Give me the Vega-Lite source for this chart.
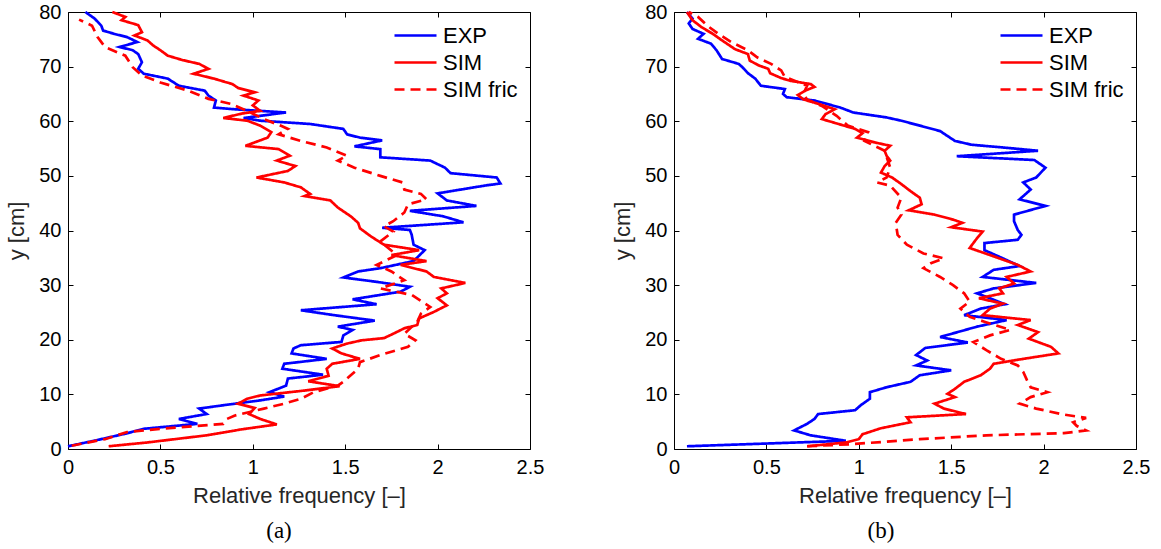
{
"$schema":"https://vega.github.io/schema/vega-lite/v6.json",
"background":"white",
"padding":{"left":5,"top":1,"right":5,"bottom":5},
"bounds":"flush",
"spacing":144,
"config":{
 "view":{"stroke":"black","strokeWidth":1},
 "font":"Liberation Sans",
 "axis":{"grid":false,"domain":false,"labelFont":"Liberation Sans","labelFontSize":20,"labelColor":"black","titleFont":"Liberation Sans","titleFontSize":22,"titleFontWeight":"normal","titleColor":"#262626","tickColor":"black","tickSize":-5,"tickWidth":1},
 "legend":{"labelFont":"Liberation Sans","labelFontSize":22,"labelColor":"black"},
 "title":{"font":"Liberation Serif","fontSize":23,"fontWeight":"normal","color":"black"}
},
"resolve":{"scale":{"color":"independent","strokeDash":"independent"},"legend":{"color":"independent","strokeDash":"independent"}},
"datasets":{
"a":[
{"s":"EXP","y":80,"x":0.094},{"s":"EXP","y":78.8,"x":0.144},{"s":"EXP","y":77.5,"x":0.18},{"s":"EXP","y":76.6,"x":0.19},{"s":"EXP","y":76,"x":0.25},{"s":"EXP","y":75.4,"x":0.32},{"s":"EXP","y":74.5,"x":0.375},{"s":"EXP","y":73.6,"x":0.28},{"s":"EXP","y":73,"x":0.35},{"s":"EXP","y":72.3,"x":0.38},{"s":"EXP","y":70.8,"x":0.40},{"s":"EXP","y":69.6,"x":0.38},{"s":"EXP","y":68.7,"x":0.41},{"s":"EXP","y":67.8,"x":0.54},{"s":"EXP","y":66.5,"x":0.60},{"s":"EXP","y":65.6,"x":0.74},{"s":"EXP","y":64.7,"x":0.76},{"s":"EXP","y":63.8,"x":0.80},{"s":"EXP","y":62.5,"x":0.79},{"s":"EXP","y":62.2,"x":0.90},{"s":"EXP","y":61.6,"x":1.18},{"s":"EXP","y":60.6,"x":0.95},{"s":"EXP","y":60.1,"x":1.04},{"s":"EXP","y":59.5,"x":1.31},{"s":"EXP","y":58.6,"x":1.49},{"s":"EXP","y":57.6,"x":1.51},{"s":"EXP","y":57,"x":1.58},{"s":"EXP","y":56.5,"x":1.70},{"s":"EXP","y":55.4,"x":1.55},{"s":"EXP","y":54.9,"x":1.69},{"s":"EXP","y":53.4,"x":1.69},{"s":"EXP","y":52.8,"x":1.96},{"s":"EXP","y":51.5,"x":2.04},{"s":"EXP","y":50.5,"x":2.07},{"s":"EXP","y":49.7,"x":2.32},{"s":"EXP","y":48.6,"x":2.34},{"s":"EXP","y":48.3,"x":2.27},{"s":"EXP","y":46.8,"x":2.0},{"s":"EXP","y":45.5,"x":2.05},{"s":"EXP","y":44.5,"x":2.21},{"s":"EXP","y":43.6,"x":1.85},{"s":"EXP","y":42.6,"x":2.03},{"s":"EXP","y":41.5,"x":2.14},{"s":"EXP","y":40.5,"x":1.70},{"s":"EXP","y":40.1,"x":1.85},{"s":"EXP","y":39.2,"x":1.86},{"s":"EXP","y":37.4,"x":1.87},{"s":"EXP","y":36.4,"x":1.93},{"s":"EXP","y":34.4,"x":1.87},{"s":"EXP","y":33.1,"x":1.69},{"s":"EXP","y":32.5,"x":1.57},{"s":"EXP","y":31.4,"x":1.49},{"s":"EXP","y":30.6,"x":1.67},{"s":"EXP","y":29.7,"x":1.85},{"s":"EXP","y":28.8,"x":1.80},{"s":"EXP","y":27.4,"x":1.54},{"s":"EXP","y":26.5,"x":1.67},{"s":"EXP","y":25.4,"x":1.26},{"s":"EXP","y":24.5,"x":1.44},{"s":"EXP","y":23.5,"x":1.66},{"s":"EXP","y":22.4,"x":1.46},{"s":"EXP","y":21.8,"x":1.54},{"s":"EXP","y":20.8,"x":1.49},{"s":"EXP","y":19.6,"x":1.48},{"s":"EXP","y":19.0,"x":1.26},{"s":"EXP","y":18.4,"x":1.22},{"s":"EXP","y":17.5,"x":1.21},{"s":"EXP","y":16.5,"x":1.40},{"s":"EXP","y":15.6,"x":1.17},{"s":"EXP","y":14.7,"x":1.16},{"s":"EXP","y":13.6,"x":1.38},{"s":"EXP","y":12.9,"x":1.19},{"s":"EXP","y":11.6,"x":1.18},{"s":"EXP","y":10.4,"x":1.09},{"s":"EXP","y":9.6,"x":1.17},{"s":"EXP","y":8.9,"x":1.04},{"s":"EXP","y":8.1,"x":0.86},{"s":"EXP","y":7.4,"x":0.71},{"s":"EXP","y":6.4,"x":0.75},{"s":"EXP","y":5.5,"x":0.60},{"s":"EXP","y":4.6,"x":0.70},{"s":"EXP","y":3.7,"x":0.41},{"s":"EXP","y":2.8,"x":0.31},{"s":"EXP","y":1.5,"x":0.14},{"s":"EXP","y":0.5,"x":0.0},
{"s":"SIM","y":80,"x":0.24},{"s":"SIM","y":79.1,"x":0.31},{"s":"SIM","y":78.5,"x":0.29},{"s":"SIM","y":77.6,"x":0.38},{"s":"SIM","y":76.3,"x":0.40},{"s":"SIM","y":75.7,"x":0.36},{"s":"SIM","y":74.8,"x":0.43},{"s":"SIM","y":73.9,"x":0.46},{"s":"SIM","y":73,"x":0.50},{"s":"SIM","y":72,"x":0.54},{"s":"SIM","y":71.2,"x":0.62},{"s":"SIM","y":70.5,"x":0.71},{"s":"SIM","y":69.6,"x":0.76},{"s":"SIM","y":68.7,"x":0.68},{"s":"SIM","y":67.8,"x":0.79},{"s":"SIM","y":66.8,"x":0.89},{"s":"SIM","y":66.1,"x":0.92},{"s":"SIM","y":65.3,"x":1.01},{"s":"SIM","y":64.7,"x":0.95},{"s":"SIM","y":63.8,"x":1.03},{"s":"SIM","y":62.9,"x":1.0},{"s":"SIM","y":61.9,"x":1.04},{"s":"SIM","y":61.4,"x":0.94},{"s":"SIM","y":60.6,"x":0.84},{"s":"SIM","y":60.1,"x":0.97},{"s":"SIM","y":59.2,"x":1.04},{"s":"SIM","y":58,"x":1.10},{"s":"SIM","y":57,"x":1.08},{"s":"SIM","y":55.5,"x":0.96},{"s":"SIM","y":54.9,"x":1.14},{"s":"SIM","y":53.7,"x":1.20},{"s":"SIM","y":52.8,"x":1.13},{"s":"SIM","y":51.8,"x":1.23},{"s":"SIM","y":50.9,"x":1.19},{"s":"SIM","y":49.7,"x":1.02},{"s":"SIM","y":48.8,"x":1.17},{"s":"SIM","y":47.9,"x":1.26},{"s":"SIM","y":46.7,"x":1.31},{"s":"SIM","y":46.3,"x":1.28},{"s":"SIM","y":45.5,"x":1.42},{"s":"SIM","y":44.2,"x":1.46},{"s":"SIM","y":42.6,"x":1.53},{"s":"SIM","y":41.4,"x":1.57},{"s":"SIM","y":40.4,"x":1.58},{"s":"SIM","y":38.9,"x":1.64},{"s":"SIM","y":37.4,"x":1.71},{"s":"SIM","y":36.4,"x":1.90},{"s":"SIM","y":35.5,"x":1.75},{"s":"SIM","y":34.4,"x":1.94},{"s":"SIM","y":33.7,"x":1.80},{"s":"SIM","y":32.5,"x":1.94},{"s":"SIM","y":31.5,"x":1.98},{"s":"SIM","y":30.4,"x":2.15},{"s":"SIM","y":29.4,"x":2.02},{"s":"SIM","y":28.5,"x":2.05},{"s":"SIM","y":27.6,"x":2.0},{"s":"SIM","y":26.3,"x":2.05},{"s":"SIM","y":25.1,"x":1.98},{"s":"SIM","y":23.9,"x":1.90},{"s":"SIM","y":22.7,"x":1.89},{"s":"SIM","y":22.1,"x":1.82},{"s":"SIM","y":21.1,"x":1.76},{"s":"SIM","y":20.3,"x":1.71},{"s":"SIM","y":19.9,"x":1.59},{"s":"SIM","y":19.3,"x":1.51},{"s":"SIM","y":18.4,"x":1.43},{"s":"SIM","y":17.5,"x":1.48},{"s":"SIM","y":16.5,"x":1.58},{"s":"SIM","y":15.6,"x":1.43},{"s":"SIM","y":14.7,"x":1.40},{"s":"SIM","y":13.4,"x":1.41},{"s":"SIM","y":12.4,"x":1.30},{"s":"SIM","y":11.5,"x":1.47},{"s":"SIM","y":10.7,"x":1.28},{"s":"SIM","y":9.8,"x":1.04},{"s":"SIM","y":9.2,"x":0.97},{"s":"SIM","y":8.3,"x":0.92},{"s":"SIM","y":7.5,"x":1.01},{"s":"SIM","y":6.4,"x":0.98},{"s":"SIM","y":5.5,"x":1.04},{"s":"SIM","y":4.5,"x":1.13},{"s":"SIM","y":3.6,"x":0.94},{"s":"SIM","y":2.5,"x":0.75},{"s":"SIM","y":1.2,"x":0.43},{"s":"SIM","y":0.5,"x":0.22},
{"s":"SIM fric","y":78.6,"x":0.06},{"s":"SIM fric","y":77.5,"x":0.13},{"s":"SIM fric","y":75.4,"x":0.16},{"s":"SIM fric","y":73.6,"x":0.20},{"s":"SIM fric","y":72,"x":0.31},{"s":"SIM fric","y":69.9,"x":0.35},{"s":"SIM fric","y":68.4,"x":0.40},{"s":"SIM fric","y":67.1,"x":0.50},{"s":"SIM fric","y":65.6,"x":0.65},{"s":"SIM fric","y":64.1,"x":0.76},{"s":"SIM fric","y":63.2,"x":0.88},{"s":"SIM fric","y":61.9,"x":0.97},{"s":"SIM fric","y":60.4,"x":1.06},{"s":"SIM fric","y":59.2,"x":1.15},{"s":"SIM fric","y":58.6,"x":1.19},{"s":"SIM fric","y":57.6,"x":1.14},{"s":"SIM fric","y":56.4,"x":1.26},{"s":"SIM fric","y":55.2,"x":1.40},{"s":"SIM fric","y":53.7,"x":1.51},{"s":"SIM fric","y":52.8,"x":1.46},{"s":"SIM fric","y":51.5,"x":1.55},{"s":"SIM fric","y":50,"x":1.69},{"s":"SIM fric","y":48.8,"x":1.81},{"s":"SIM fric","y":47.5,"x":1.82},{"s":"SIM fric","y":46.7,"x":1.91},{"s":"SIM fric","y":45.7,"x":1.94},{"s":"SIM fric","y":44.8,"x":1.84},{"s":"SIM fric","y":43.3,"x":1.82},{"s":"SIM fric","y":41.7,"x":1.76},{"s":"SIM fric","y":40.8,"x":1.71},{"s":"SIM fric","y":39.8,"x":1.76},{"s":"SIM fric","y":38,"x":1.69},{"s":"SIM fric","y":35.5,"x":1.78},{"s":"SIM fric","y":33.7,"x":1.67},{"s":"SIM fric","y":32.5,"x":1.75},{"s":"SIM fric","y":30.9,"x":1.82},{"s":"SIM fric","y":29.4,"x":1.69},{"s":"SIM fric","y":28.2,"x":1.86},{"s":"SIM fric","y":26,"x":1.96},{"s":"SIM fric","y":24.8,"x":1.91},{"s":"SIM fric","y":23.3,"x":1.89},{"s":"SIM fric","y":21.1,"x":1.82},{"s":"SIM fric","y":19.9,"x":1.88},{"s":"SIM fric","y":18.7,"x":1.84},{"s":"SIM fric","y":17.2,"x":1.69},{"s":"SIM fric","y":15.9,"x":1.58},{"s":"SIM fric","y":14.7,"x":1.57},{"s":"SIM fric","y":13.5,"x":1.53},{"s":"SIM fric","y":12.3,"x":1.49},{"s":"SIM fric","y":11.6,"x":1.46},{"s":"SIM fric","y":10.4,"x":1.33},{"s":"SIM fric","y":9.2,"x":1.26},{"s":"SIM fric","y":8.3,"x":1.17},{"s":"SIM fric","y":7.4,"x":1.06},{"s":"SIM fric","y":6.1,"x":0.90},{"s":"SIM fric","y":5.5,"x":0.86},{"s":"SIM fric","y":4.6,"x":0.84},{"s":"SIM fric","y":3.7,"x":0.50},{"s":"SIM fric","y":3.1,"x":0.32},{"s":"SIM fric","y":1.8,"x":0.20},{"s":"SIM fric","y":0.6,"x":0.02}
],
"b":[
{"s":"EXP","y":80,"x":0.07},{"s":"EXP","y":78.8,"x":0.10},{"s":"EXP","y":77.9,"x":0.08},{"s":"EXP","y":76.9,"x":0.10},{"s":"EXP","y":76,"x":0.16},{"s":"EXP","y":75.1,"x":0.13},{"s":"EXP","y":74.2,"x":0.20},{"s":"EXP","y":73,"x":0.23},{"s":"EXP","y":71.4,"x":0.26},{"s":"EXP","y":70.5,"x":0.35},{"s":"EXP","y":69.9,"x":0.37},{"s":"EXP","y":68.8,"x":0.40},{"s":"EXP","y":67.8,"x":0.44},{"s":"EXP","y":66.5,"x":0.47},{"s":"EXP","y":65.9,"x":0.60},{"s":"EXP","y":65,"x":0.59},{"s":"EXP","y":64.4,"x":0.61},{"s":"EXP","y":63.8,"x":0.76},{"s":"EXP","y":62.5,"x":0.90},{"s":"EXP","y":61.6,"x":0.97},{"s":"EXP","y":60.7,"x":1.15},{"s":"EXP","y":60.1,"x":1.23},{"s":"EXP","y":59.2,"x":1.33},{"s":"EXP","y":58.2,"x":1.44},{"s":"EXP","y":57.3,"x":1.48},{"s":"EXP","y":56.4,"x":1.52},{"s":"EXP","y":55.7,"x":1.61},{"s":"EXP","y":55.2,"x":1.78},{"s":"EXP","y":54.6,"x":1.97},{"s":"EXP","y":53.6,"x":1.53},{"s":"EXP","y":52.9,"x":1.95},{"s":"EXP","y":51.5,"x":2.01},{"s":"EXP","y":49.7,"x":1.96},{"s":"EXP","y":48.8,"x":1.89},{"s":"EXP","y":47.5,"x":1.93},{"s":"EXP","y":45.7,"x":1.87},{"s":"EXP","y":44.5,"x":2.01},{"s":"EXP","y":42.9,"x":1.84},{"s":"EXP","y":41.7,"x":1.84},{"s":"EXP","y":40.1,"x":1.86},{"s":"EXP","y":39.2,"x":1.88},{"s":"EXP","y":38.3,"x":1.86},{"s":"EXP","y":37.7,"x":1.68},{"s":"EXP","y":36.4,"x":1.68},{"s":"EXP","y":34.9,"x":1.78},{"s":"EXP","y":33.5,"x":1.87},{"s":"EXP","y":32.8,"x":1.73},{"s":"EXP","y":31.5,"x":1.67},{"s":"EXP","y":30.4,"x":1.96},{"s":"EXP","y":29.4,"x":1.73},{"s":"EXP","y":28.5,"x":1.64},{"s":"EXP","y":27.6,"x":1.71},{"s":"EXP","y":26.5,"x":1.79},{"s":"EXP","y":25.7,"x":1.66},{"s":"EXP","y":24.5,"x":1.57},{"s":"EXP","y":23.6,"x":1.80},{"s":"EXP","y":22.4,"x":1.64},{"s":"EXP","y":20.5,"x":1.44},{"s":"EXP","y":19.5,"x":1.59},{"s":"EXP","y":18.5,"x":1.36},{"s":"EXP","y":17.2,"x":1.31},{"s":"EXP","y":16.2,"x":1.37},{"s":"EXP","y":15.3,"x":1.31},{"s":"EXP","y":14.4,"x":1.50},{"s":"EXP","y":13.5,"x":1.33},{"s":"EXP","y":12.3,"x":1.28},{"s":"EXP","y":11.3,"x":1.15},{"s":"EXP","y":10.4,"x":1.06},{"s":"EXP","y":9.2,"x":1.06},{"s":"EXP","y":8.0,"x":1.01},{"s":"EXP","y":7.1,"x":0.98},{"s":"EXP","y":6.4,"x":0.78},{"s":"EXP","y":5.5,"x":0.76},{"s":"EXP","y":4.6,"x":0.72},{"s":"EXP","y":3.4,"x":0.65},{"s":"EXP","y":2.5,"x":0.74},{"s":"EXP","y":1.5,"x":0.93},{"s":"EXP","y":0.5,"x":0.07},
{"s":"SIM","y":80,"x":0.07},{"s":"SIM","y":78.5,"x":0.10},{"s":"SIM","y":77.2,"x":0.15},{"s":"SIM","y":76,"x":0.21},{"s":"SIM","y":74.8,"x":0.26},{"s":"SIM","y":73.2,"x":0.33},{"s":"SIM","y":72.3,"x":0.40},{"s":"SIM","y":71.1,"x":0.41},{"s":"SIM","y":70.2,"x":0.46},{"s":"SIM","y":69.6,"x":0.51},{"s":"SIM","y":68.8,"x":0.52},{"s":"SIM","y":67.9,"x":0.58},{"s":"SIM","y":67.4,"x":0.63},{"s":"SIM","y":66.8,"x":0.74},{"s":"SIM","y":66.3,"x":0.76},{"s":"SIM","y":65.6,"x":0.71},{"s":"SIM","y":64.8,"x":0.67},{"s":"SIM","y":64.0,"x":0.70},{"s":"SIM","y":63.2,"x":0.78},{"s":"SIM","y":62.2,"x":0.87},{"s":"SIM","y":61.3,"x":0.82},{"s":"SIM","y":60.4,"x":0.80},{"s":"SIM","y":59.5,"x":0.89},{"s":"SIM","y":58.6,"x":0.98},{"s":"SIM","y":57.8,"x":1.02},{"s":"SIM","y":57.0,"x":0.99},{"s":"SIM","y":56.1,"x":1.09},{"s":"SIM","y":55.5,"x":1.17},{"s":"SIM","y":54.6,"x":1.14},{"s":"SIM","y":53.7,"x":1.15},{"s":"SIM","y":52.8,"x":1.17},{"s":"SIM","y":51.8,"x":1.14},{"s":"SIM","y":50.6,"x":1.12},{"s":"SIM","y":49.7,"x":1.18},{"s":"SIM","y":48.5,"x":1.23},{"s":"SIM","y":47.2,"x":1.28},{"s":"SIM","y":46.0,"x":1.33},{"s":"SIM","y":44.8,"x":1.34},{"s":"SIM","y":43.7,"x":1.27},{"s":"SIM","y":42.9,"x":1.41},{"s":"SIM","y":42.0,"x":1.51},{"s":"SIM","y":41.4,"x":1.56},{"s":"SIM","y":40.6,"x":1.50},{"s":"SIM","y":39.8,"x":1.67},{"s":"SIM","y":38.6,"x":1.64},{"s":"SIM","y":36.8,"x":1.60},{"s":"SIM","y":35.5,"x":1.71},{"s":"SIM","y":33.7,"x":1.86},{"s":"SIM","y":32.5,"x":1.93},{"s":"SIM","y":31.5,"x":1.80},{"s":"SIM","y":30.3,"x":1.84},{"s":"SIM","y":29.4,"x":1.76},{"s":"SIM","y":28.5,"x":1.78},{"s":"SIM","y":27.6,"x":1.65},{"s":"SIM","y":26.6,"x":1.78},{"s":"SIM","y":25.7,"x":1.71},{"s":"SIM","y":24.5,"x":1.67},{"s":"SIM","y":23.6,"x":1.93},{"s":"SIM","y":22.7,"x":1.86},{"s":"SIM","y":21.4,"x":1.97},{"s":"SIM","y":20.2,"x":1.92},{"s":"SIM","y":18.7,"x":2.04},{"s":"SIM","y":17.5,"x":2.08},{"s":"SIM","y":16.5,"x":1.89},{"s":"SIM","y":15.6,"x":1.73},{"s":"SIM","y":14.7,"x":1.71},{"s":"SIM","y":13.5,"x":1.66},{"s":"SIM","y":12.3,"x":1.57},{"s":"SIM","y":11.0,"x":1.52},{"s":"SIM","y":10.1,"x":1.48},{"s":"SIM","y":9.5,"x":1.52},{"s":"SIM","y":8.3,"x":1.41},{"s":"SIM","y":7.4,"x":1.46},{"s":"SIM","y":6.4,"x":1.58},{"s":"SIM","y":5.8,"x":1.26},{"s":"SIM","y":4.9,"x":1.28},{"s":"SIM","y":3.8,"x":1.12},{"s":"SIM","y":2.7,"x":1.02},{"s":"SIM","y":1.8,"x":1.00},{"s":"SIM","y":1.2,"x":0.93},{"s":"SIM","y":0.5,"x":0.72},
{"s":"SIM fric","y":80,"x":0.08},{"s":"SIM fric","y":79.1,"x":0.13},{"s":"SIM fric","y":77.5,"x":0.18},{"s":"SIM fric","y":76,"x":0.24},{"s":"SIM fric","y":74.5,"x":0.31},{"s":"SIM fric","y":73,"x":0.40},{"s":"SIM fric","y":71.7,"x":0.45},{"s":"SIM fric","y":70.5,"x":0.525},{"s":"SIM fric","y":69.3,"x":0.58},{"s":"SIM fric","y":68.1,"x":0.60},{"s":"SIM fric","y":66.5,"x":0.72},{"s":"SIM fric","y":65,"x":0.70},{"s":"SIM fric","y":64,"x":0.72},{"s":"SIM fric","y":62.8,"x":0.80},{"s":"SIM fric","y":61,"x":0.88},{"s":"SIM fric","y":59.2,"x":0.94},{"s":"SIM fric","y":58,"x":1.05},{"s":"SIM fric","y":56.4,"x":1.03},{"s":"SIM fric","y":54.6,"x":1.14},{"s":"SIM fric","y":51.5,"x":1.17},{"s":"SIM fric","y":49.7,"x":1.15},{"s":"SIM fric","y":48.8,"x":1.10},{"s":"SIM fric","y":48.2,"x":1.17},{"s":"SIM fric","y":46.0,"x":1.23},{"s":"SIM fric","y":44.2,"x":1.21},{"s":"SIM fric","y":42.9,"x":1.23},{"s":"SIM fric","y":41.4,"x":1.20},{"s":"SIM fric","y":39.2,"x":1.21},{"s":"SIM fric","y":37.4,"x":1.26},{"s":"SIM fric","y":35.8,"x":1.35},{"s":"SIM fric","y":34.9,"x":1.46},{"s":"SIM fric","y":34.0,"x":1.39},{"s":"SIM fric","y":33.1,"x":1.35},{"s":"SIM fric","y":31.5,"x":1.44},{"s":"SIM fric","y":30.0,"x":1.51},{"s":"SIM fric","y":28.5,"x":1.57},{"s":"SIM fric","y":27.0,"x":1.60},{"s":"SIM fric","y":25.7,"x":1.55},{"s":"SIM fric","y":24.2,"x":1.60},{"s":"SIM fric","y":23.3,"x":1.68},{"s":"SIM fric","y":21.8,"x":1.82},{"s":"SIM fric","y":20.8,"x":1.71},{"s":"SIM fric","y":19.6,"x":1.62},{"s":"SIM fric","y":18.1,"x":1.69},{"s":"SIM fric","y":16.5,"x":1.77},{"s":"SIM fric","y":15.3,"x":1.86},{"s":"SIM fric","y":14.1,"x":1.89},{"s":"SIM fric","y":12.6,"x":1.91},{"s":"SIM fric","y":11.3,"x":1.93},{"s":"SIM fric","y":10.4,"x":2.02},{"s":"SIM fric","y":9.5,"x":1.93},{"s":"SIM fric","y":8.3,"x":1.87},{"s":"SIM fric","y":7.4,"x":1.96},{"s":"SIM fric","y":6.3,"x":2.11},{"s":"SIM fric","y":5.7,"x":2.23},{"s":"SIM fric","y":4.9,"x":2.16},{"s":"SIM fric","y":4.2,"x":2.18},{"s":"SIM fric","y":3.4,"x":2.23},{"s":"SIM fric","y":2.9,"x":2.11},{"s":"SIM fric","y":2.5,"x":1.69},{"s":"SIM fric","y":1.8,"x":1.33},{"s":"SIM fric","y":0.9,"x":0.97},{"s":"SIM fric","y":0.5,"x":0.72}
]
},
"hconcat":[
{
 "width":462,"height":437,
 "data":{"name":"a"},
 "title":{"text":"(a)","orient":"bottom","offset":14,"dx":-20},
 "resolve":{"axis":{"x":"independent","y":"independent"}},
 "layer":[
  {"mark":{"type":"line","strokeWidth":2.7},
   "encoding":{
    "x":{"field":"x","type":"quantitative","scale":{"domain":[0,2.5],"nice":false},"axis":{"orient":"bottom","values":[0,0.5,1,1.5,2,2.5],"format":"~g","title":"Relative frequency [–]","labelPadding":13,"titlePadding":8,"labelFlush":false,"labelOverlap":false}},
    "y":{"field":"y","type":"quantitative","scale":{"domain":[0,80],"nice":false},"axis":{"orient":"left","values":[0,10,20,30,40,50,60,70,80],"title":"y [cm]","labelPadding":12,"titlePadding":10,"labelFlush":false,"labelOverlap":false}},
    "order":{"field":"y","type":"quantitative"},
    "color":{"field":"s","type":"nominal","scale":{"domain":["EXP","SIM","SIM fric"],"range":["#0000ff","#ff0000","#ff0000"]},"legend":{"title":null,"orient":"none","legendX":325,"legendY":10,"padding":0,"symbolType":"stroke","symbolSize":1764,"symbolStrokeWidth":2.7,"labelOffset":5,"rowPadding":0,"clipHeight":27}},
    "strokeDash":{"field":"s","type":"nominal","scale":{"domain":["EXP","SIM","SIM fric"],"range":[[1,0],[1,0],[10,6]]},"legend":{"title":null,"orient":"none","legendX":325,"legendY":10,"padding":0,"symbolType":"stroke","symbolSize":1764,"symbolStrokeWidth":2.7,"labelOffset":5,"rowPadding":0,"clipHeight":27}}
   }},
  {"mark":{"type":"line","opacity":0},
   "encoding":{
    "x":{"field":"x","type":"quantitative","axis":{"orient":"top","values":[0,0.5,1,1.5,2,2.5],"labels":false,"title":null}},
    "y":{"field":"y","type":"quantitative","axis":{"orient":"right","values":[0,10,20,30,40,50,60,70,80],"labels":false,"title":null}}
   }}
 ]
},
{
 "width":462,"height":437,
 "data":{"name":"b"},
 "title":{"text":"(b)","orient":"bottom","offset":14,"dx":-24},
 "resolve":{"axis":{"x":"independent","y":"independent"}},
 "layer":[
  {"mark":{"type":"line","strokeWidth":2.7},
   "encoding":{
    "x":{"field":"x","type":"quantitative","scale":{"domain":[0,2.5],"nice":false},"axis":{"orient":"bottom","values":[0,0.5,1,1.5,2,2.5],"format":"~g","title":"Relative frequency [–]","labelPadding":13,"titlePadding":8,"labelFlush":false,"labelOverlap":false}},
    "y":{"field":"y","type":"quantitative","scale":{"domain":[0,80],"nice":false},"axis":{"orient":"left","values":[0,10,20,30,40,50,60,70,80],"title":"y [cm]","labelPadding":12,"titlePadding":10,"labelFlush":false,"labelOverlap":false}},
    "order":{"field":"y","type":"quantitative"},
    "color":{"field":"s","type":"nominal","scale":{"domain":["EXP","SIM","SIM fric"],"range":["#0000ff","#ff0000","#ff0000"]},"legend":{"title":null,"orient":"none","legendX":325,"legendY":10,"padding":0,"symbolType":"stroke","symbolSize":1764,"symbolStrokeWidth":2.7,"labelOffset":5,"rowPadding":0,"clipHeight":27}},
    "strokeDash":{"field":"s","type":"nominal","scale":{"domain":["EXP","SIM","SIM fric"],"range":[[1,0],[1,0],[10,6]]},"legend":{"title":null,"orient":"none","legendX":325,"legendY":10,"padding":0,"symbolType":"stroke","symbolSize":1764,"symbolStrokeWidth":2.7,"labelOffset":5,"rowPadding":0,"clipHeight":27}}
   }},
  {"mark":{"type":"line","opacity":0},
   "encoding":{
    "x":{"field":"x","type":"quantitative","axis":{"orient":"top","values":[0,0.5,1,1.5,2,2.5],"labels":false,"title":null}},
    "y":{"field":"y","type":"quantitative","axis":{"orient":"right","values":[0,10,20,30,40,50,60,70,80],"labels":false,"title":null}}
   }}
 ]
}
]
}
